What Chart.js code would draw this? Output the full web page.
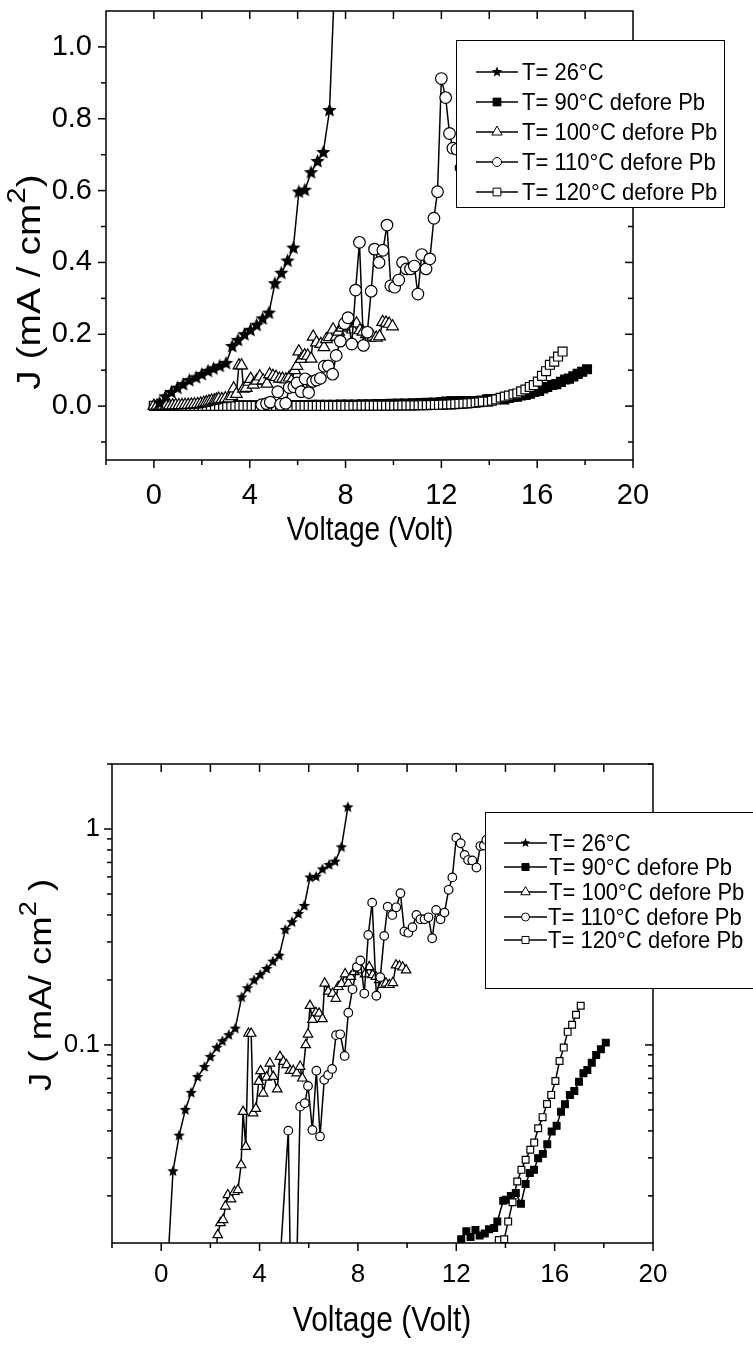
<!DOCTYPE html>
<html>
<head>
<meta charset="utf-8">
<script src="https://cdn.jsdelivr.net/npm/chart.js@4.4.0/dist/chart.umd.min.js"></script>
<style>
  html, body { margin: 0; padding: 0; background: #fff; }
  body { width: 753px; height: 1353px; position: relative; overflow: hidden; }
  canvas { position: absolute; left: 0; }
  #linearChart { top: 0; }
  #logChart { top: 676px; }
</style>
</head>
<body>
<canvas id="linearChart" width="753" height="676"></canvas>
<canvas id="logChart" width="753" height="677"></canvas>
<script>
// series labels
const seriesLabels = ['T= 26°C', 'T= 90°C defore Pb', 'T= 100°C defore Pb', 'T= 110°C defore Pb', 'T= 120°C defore Pb'];

// T = 26 C (stars)
const t26X = [0.23, 0.48, 0.73, 0.98, 1.22, 1.48, 1.76, 2.00, 2.26, 2.49, 2.75, 3.01, 3.27, 3.51, 3.78, 4.03, 4.29, 4.54, 4.80, 5.05,
  5.32, 5.58, 5.82, 6.05, 6.30, 6.56, 6.83, 7.07, 7.33, 7.59];
const t26Y = [0.008, 0.026, 0.038, 0.050, 0.060, 0.071, 0.079, 0.088, 0.097, 0.104, 0.111, 0.119, 0.166, 0.183, 0.199, 0.211, 0.225, 0.243, 0.259, 0.341,
  0.370, 0.404, 0.440, 0.596, 0.601, 0.650, 0.681, 0.706, 0.823, 1.26];

// T = 90 C (filled squares)
const t90X = [0, 0.3, 0.6, 0.9, 1.2, 1.5, 1.8, 2.1, 2.4, 2.7, 3.0, 3.3, 3.6, 3.9, 4.2, 4.5, 4.8, 5.1, 5.4, 5.7,
  6.0, 6.3, 6.6, 6.9, 7.2, 7.5, 7.8, 8.1, 8.4, 8.7, 9.0, 9.3, 9.6, 9.9, 10.2, 10.5, 10.8, 11.1, 11.4, 11.7,
  12.0, 12.20, 12.41, 12.58, 12.78, 12.95, 13.16, 13.33, 13.54, 13.67, 13.91, 14.02, 14.22, 14.42, 14.63, 14.82, 14.99, 15.16, 15.33, 15.52,
  15.70, 15.88, 16.08, 16.26, 16.42, 16.62, 16.80, 16.99, 17.17, 17.33, 17.51, 17.69, 17.88, 18.08];
const t90Y = [0.0010, 0.0011, 0.0012, 0.0013, 0.0014, 0.0015, 0.0016, 0.0017, 0.0018, 0.0019, 0.0020, 0.0021, 0.0022, 0.0023, 0.0024, 0.0025, 0.0026, 0.0027, 0.0028, 0.0030,
  0.0031, 0.0033, 0.0034, 0.0036, 0.0038, 0.0040, 0.0042, 0.0044, 0.0047, 0.0050, 0.0053, 0.0056, 0.0060, 0.0064, 0.0068, 0.0073, 0.0078, 0.0084, 0.0091, 0.0099,
  0.0110, 0.0126, 0.0137, 0.0129, 0.0139, 0.0131, 0.0134, 0.0140, 0.0142, 0.0152, 0.0190, 0.0192, 0.0200, 0.0206, 0.0184, 0.0227, 0.0255, 0.0264, 0.0299, 0.0313,
  0.0347, 0.0397, 0.0422, 0.0491, 0.0531, 0.0587, 0.0612, 0.0676, 0.0740, 0.0766, 0.0828, 0.0899, 0.0955, 0.1025];

// T = 100 C (open triangles)
const t100X = [0, 0.13, 0.26, 0.39, 0.52, 0.65, 0.78, 0.91, 1.04, 1.17, 1.30, 1.43, 1.56, 1.69, 1.82, 1.95, 2.08, 2.19,
  2.30, 2.41, 2.52, 2.61, 2.71, 2.84, 2.98, 3.12, 3.25, 3.33, 3.44, 3.55, 3.66, 3.74, 3.85, 3.97, 4.04, 4.15, 4.29, 4.42,
  4.56, 4.72, 4.83, 4.97, 5.10, 5.24, 5.37, 5.51, 5.65, 5.74, 5.88, 5.97, 6.05, 6.15, 6.29, 6.42, 6.56, 6.65, 6.79, 6.97,
  7.10, 7.20, 7.33, 7.48, 7.61, 7.71, 7.85, 8.01, 8.16, 8.29, 8.46, 8.60, 8.73, 8.87, 9.01, 9.14, 9.28, 9.42, 9.55, 9.69, 9.82, 9.96];
const t100Y = [0.0010, 0.0010, 0.0012, 0.0013, 0.0015, 0.0017, 0.0019, 0.0021, 0.0024, 0.0027, 0.0030, 0.0034, 0.0039, 0.0045, 0.0055, 0.0068, 0.0085, 0.0105,
  0.0132, 0.0150, 0.0155, 0.0179, 0.0202, 0.0193, 0.0209, 0.0213, 0.0278, 0.0491, 0.0338, 0.113, 0.113, 0.0483, 0.0507, 0.0676, 0.0758, 0.0597, 0.0708, 0.0822,
  0.0713, 0.0624, 0.0883, 0.0837, 0.0808, 0.076, 0.076, 0.074, 0.0794, 0.0701, 0.100, 0.112, 0.152, 0.131, 0.141, 0.140, 0.132, 0.193, 0.177, 0.173,
  0.164, 0.186, 0.192, 0.213, 0.193, 0.207, 0.218, 0.226, 0.222, 0.213, 0.230, 0.211, 0.207, 0.200, 0.190, 0.193, 0.190, 0.194, 0.234, 0.232, 0.229, 0.222];

// T = 110 C (open circles)
const t110X = [4.50, 4.70, 4.86, 5.17, 5.29, 5.50, 5.65, 5.84, 5.97, 6.15, 6.31, 6.46, 6.63, 6.79, 6.95, 7.11, 7.28, 7.46, 7.61, 7.78,
  7.96, 8.10, 8.26, 8.42, 8.58, 8.75, 8.91, 9.07, 9.21, 9.40, 9.56, 9.73, 9.89, 10.05, 10.22, 10.38, 10.54, 10.71, 10.87, 11.02,
  11.18, 11.36, 11.52, 11.69, 11.84, 12.00, 12.18, 12.34, 12.48, 12.65, 12.82, 12.98, 13.12, 13.22, 13.40];
const t110Y = [0.004, 0.007, 0.011, 0.0401, 0.005, 0.008, 0.0518, 0.0537, 0.0646, 0.0404, 0.0760, 0.0377, 0.0689, 0.0726, 0.0774, 0.111, 0.112, 0.0889, 0.141, 0.181,
  0.230, 0.246, 0.173, 0.323, 0.456, 0.169, 0.206, 0.320, 0.437, 0.400, 0.434, 0.504, 0.335, 0.331, 0.351, 0.400, 0.382, 0.382, 0.390, 0.312,
  0.422, 0.382, 0.410, 0.523, 0.597, 0.912, 0.859, 0.759, 0.718, 0.715, 0.663, 0.834, 0.838, 0.890, 0.920];

// T = 120 C (open squares)
const t120X = [0.00, 0.17, 0.34, 0.51, 0.68, 0.85, 1.02, 1.19, 1.36, 1.53, 1.70, 1.87, 2.04,
  2.21, 2.38, 2.55, 2.72, 2.89, 3.06, 3.23, 3.40, 3.57, 3.74, 3.91, 4.08,
  4.25, 4.42, 4.59, 4.76, 4.93, 5.10, 5.27, 5.44, 5.61, 5.78, 5.95, 6.12,
  6.29, 6.46, 6.63, 6.80, 6.97, 7.14, 7.31, 7.48, 7.65, 7.82, 7.99, 8.16,
  8.33, 8.50, 8.67, 8.84, 9.01, 9.18, 9.35, 9.52,
  9.69, 9.86, 10.03, 10.20, 10.37, 10.54, 10.71, 10.88,
  11.05, 11.22, 11.39, 11.56, 11.73, 11.90, 12.07, 12.24,
  12.41, 12.58, 12.75, 12.92, 13.09, 13.26, 13.43, 13.58,
  13.73, 13.95, 14.11, 14.29, 14.48, 14.65, 14.82, 15.01, 15.17, 15.33, 15.51, 15.69, 15.86, 16.03, 16.20, 16.37, 16.53, 16.71, 16.87, 17.06];
const t120Y = [0.0005, 0.0005, 0.0005, 0.0005, 0.0005, 0.0005, 0.0005, 0.0005, 0.0005, 0.0005, 0.0005, 0.0005, 0.0005,
  0.0006, 0.0006, 0.0006, 0.0006, 0.0006, 0.0006, 0.0006, 0.0006, 0.0006, 0.0006, 0.0006, 0.0006,
  0.0007, 0.0007, 0.0007, 0.0007, 0.0007, 0.0007, 0.0007, 0.0007, 0.0007, 0.0007, 0.0007, 0.0007,
  0.0008, 0.0008, 0.0008, 0.0008, 0.0008, 0.0008, 0.0008, 0.0008, 0.0008, 0.0008, 0.0008, 0.0008,
  0.0010, 0.0010, 0.0011, 0.0011, 0.0012, 0.0012, 0.0013, 0.0013,
  0.0014, 0.0015, 0.0016, 0.0017, 0.0018, 0.0019, 0.0020, 0.0022,
  0.0024, 0.0026, 0.0028, 0.0031, 0.0034, 0.0037, 0.0041, 0.0045,
  0.0050, 0.0056, 0.0062, 0.0069, 0.0077, 0.0086, 0.0096, 0.0108,
  0.0125, 0.0126, 0.0152, 0.0187, 0.0233, 0.0264, 0.0294, 0.0327, 0.0353, 0.0411, 0.0463, 0.0533, 0.0587, 0.0681, 0.0843, 0.0972, 0.115, 0.124, 0.138, 0.152];

// axis ticks
const xTickLabels = [0, 4, 8, 12, 16, 20];
const xMinorTicks = [-2, 2, 6, 10, 14, 18];
const xTopTicks = [0, 2, 4, 6, 8, 10, 12, 14, 16, 18];
const linTickLabels = [0.0, 0.2, 0.4, 0.6, 0.8, 1.0];
const linMinorTicks = [-0.1, 0.1, 0.3, 0.5, 0.7, 0.9];
const logTickLabels = [0.1, 1];
const logMinorTicks = [0.02, 0.03, 0.04, 0.05, 0.06, 0.07, 0.08, 0.09, 0.2, 0.3, 0.4, 0.5, 0.6, 0.7, 0.8, 0.9, 2];

const FONT = '"Liberation Sans", Arial, Helvetica, sans-serif';
// the original figure is a little stretched vertically
const STRETCH = 1.18;

function pairs(xs, ys) {
    return xs.map((x, i) => ({ x: x, y: ys[i] }));
}

function makeStar(R) {
    const c = document.createElement('canvas');
    c.width = Math.ceil(2 * R + 2);
    c.height = Math.ceil(2 * R + 2);
    const ctx = c.getContext('2d');
    starPath(ctx, c.width / 2, c.height / 2, R, R * 0.45);
    ctx.fillStyle = '#000';
    ctx.fill();
    return c;
}

function starPath(ctx, cx, cy, R, r) {
    ctx.beginPath();
    for (let i = 0; i < 10; i++) {
        const rad = i % 2 ? r : R;
        const a = -Math.PI / 2 + i * Math.PI / 5;
        ctx.lineTo(cx + rad * Math.cos(a), cy + rad * Math.sin(a));
    }
    ctx.closePath();
}

function buildDatasets(sz) {
    const common = {
        borderColor: '#000',
        borderWidth: sz.line,
        pointBorderColor: '#000',
        pointBorderWidth: 1.2,
        tension: 0,
        fill: false
    };
    return [
        Object.assign({}, common, {
            label: seriesLabels[0], data: pairs(t26X, t26Y),
            pointStyle: makeStar(sz.star), pointRadius: sz.star, order: 0
        }),
        Object.assign({}, common, {
            label: seriesLabels[1], data: pairs(t90X, t90Y),
            pointStyle: 'rect', pointRadius: sz.rect, pointBackgroundColor: '#000', order: 4
        }),
        Object.assign({}, common, {
            label: seriesLabels[2], data: pairs(t100X, t100Y),
            pointStyle: 'triangle', pointRadius: sz.tri, pointBackgroundColor: '#fff', order: 2
        }),
        Object.assign({}, common, {
            label: seriesLabels[3], data: pairs(t110X, t110Y),
            pointStyle: 'circle', pointRadius: sz.circ, pointBackgroundColor: '#fff', order: 1
        }),
        Object.assign({}, common, {
            label: seriesLabels[4], data: pairs(t120X, t120Y),
            pointStyle: 'rect', pointRadius: sz.rect, pointBackgroundColor: '#fff', order: 3
        })
    ];
}

// frame, ticks, axis titles and legend drawn on top of the chart
const framePlugin = {
    id: 'frame',
    afterDraw(chart, args, opts) {
        const ctx = chart.ctx;
        const a = chart.chartArea;
        const xs = chart.scales.x, ys = chart.scales.y;
        ctx.save();
        ctx.strokeStyle = '#000';
        ctx.lineWidth = 1.5;
        ctx.strokeRect(a.left, a.top, a.right - a.left, a.bottom - a.top);

        const tick = (x1, y1, x2, y2) => {
            ctx.beginPath();
            ctx.moveTo(x1, y1);
            ctx.lineTo(x2, y2);
            ctx.stroke();
        };
        xTickLabels.forEach(v => tick(xs.getPixelForValue(v), a.bottom, xs.getPixelForValue(v), a.bottom + 8));
        xMinorTicks.forEach(v => tick(xs.getPixelForValue(v), a.bottom, xs.getPixelForValue(v), a.bottom + 5));
        xTopTicks.forEach(v => tick(xs.getPixelForValue(v), a.top, xs.getPixelForValue(v), a.top + 8));
        opts.yMajor.forEach(v => {
            const p = ys.getPixelForValue(v);
            tick(a.left - 8, p, a.left, p);
            tick(a.right - 8, p, a.right, p);
        });
        opts.yMinor.forEach(v => {
            const p = ys.getPixelForValue(v);
            tick(a.left - 5, p, a.left, p);
            tick(a.right - 5, p, a.right, p);
        });

        // axis titles
        ctx.fillStyle = '#000';
        ctx.textBaseline = 'middle';
        ctx.textAlign = 'center';
        ctx.save();
        ctx.translate(opts.xTitlePos[0], opts.xTitlePos[1]);
        ctx.scale(1, STRETCH);
        ctx.font = opts.xTitleSize + 'px ' + FONT;
        ctx.fillText('Voltage (Volt)', 0, 0);
        ctx.restore();

        ctx.save();
        ctx.translate(opts.yTitlePos[0], opts.yTitlePos[1]);
        ctx.scale(1, STRETCH);
        ctx.rotate(-Math.PI / 2);
        const big = opts.yTitleSize + 'px ' + FONT;
        const small = Math.round(opts.yTitleSize * 0.75) + 'px ' + FONT;
        ctx.font = big;
        const w1 = ctx.measureText(opts.yTitle[0]).width;
        const w3 = ctx.measureText(opts.yTitle[2]).width;
        ctx.font = small;
        const w2 = ctx.measureText(opts.yTitle[1]).width;
        const x0 = -(w1 + w2 + w3) / 2;
        ctx.textAlign = 'left';
        ctx.font = big;
        ctx.fillText(opts.yTitle[0], x0, 0);
        ctx.font = small;
        ctx.fillText(opts.yTitle[1], x0 + w1, -opts.yTitleSize * 0.4);
        ctx.font = big;
        ctx.fillText(opts.yTitle[2], x0 + w1 + w2, 0);
        ctx.restore();

        // legend
        const L = opts.legend;
        ctx.fillStyle = '#fff';
        ctx.fillRect(L.box[0], L.box[1], L.box[2], L.box[3]);
        ctx.lineWidth = 1;
        ctx.strokeRect(L.box[0] + 0.5, L.box[1] + 0.5, L.box[2], L.box[3]);
        ctx.textAlign = 'left';
        ctx.textBaseline = 'middle';
        chart.data.datasets.forEach((ds, i) => {
            const y = L.rowY[i];
            ctx.strokeStyle = '#000';
            ctx.lineWidth = 1.5;
            tick(L.line[0], y, L.line[1], y);
            const mx = (L.line[0] + L.line[1]) / 2;
            if (i === 0) {
                starPath(ctx, mx, y, L.star, L.star * 0.45);
                ctx.fillStyle = '#000';
                ctx.fill();
            } else {
                ctx.fillStyle = ds.pointBackgroundColor;
                ctx.lineWidth = 1;
                Chart.helpers.drawPoint(ctx, {
                    pointStyle: ds.pointStyle,
                    radius: L.marker[i],
                    rotation: 0,
                    borderWidth: 1
                }, mx, y);
            }
            ctx.save();
            ctx.translate(L.textX[i], y + 1);
            ctx.scale(1, 1.08);
            ctx.fillStyle = '#000';
            ctx.font = L.font + 'px ' + FONT;
            ctx.fillText(ds.label, 0, 0);
            ctx.restore();
        });
        ctx.restore();
    }
};

function makeChart(id, frame, yScale, sz, opts) {
    const canvas = document.getElementById(id);
    const W = canvas.width, H = canvas.height;
    return new Chart(canvas, {
        type: 'line',
        data: { datasets: buildDatasets(sz) },
        options: {
            responsive: false,
            animation: false,
            events: [],
            layout: { padding: { top: frame.top, right: W - frame.right, left: 0, bottom: 0 } },
            scales: {
                x: {
                    type: 'linear',
                    min: -2,
                    max: 20,
                    grid: { display: false },
                    border: { display: false },
                    ticks: {
                        color: '#000',
                        font: { family: FONT, size: sz.tickFont },
                        padding: sz.xTickPad,
                        maxRotation: 0,
                        autoSkip: false
                    },
                    afterBuildTicks: s => { s.ticks = xTickLabels.map(v => ({ value: v })); },
                    afterFit: s => {
                        s.height = H - frame.bottom;
                        s.paddingLeft = 0;
                        s.paddingRight = 0;
                    }
                },
                y: Object.assign({
                    grid: { display: false },
                    border: { display: false },
                    afterFit: s => {
                        s.width = frame.left;
                        s.paddingTop = 0;
                        s.paddingBottom = 0;
                    }
                }, yScale)
            },
            plugins: {
                legend: { display: false },
                tooltip: { enabled: false },
                frame: opts
            }
        },
        plugins: [framePlugin]
    });
}

// top: linear current density
makeChart('linearChart',
    { left: 106, right: 633, top: 11, bottom: 460 },
    {
        type: 'linear',
        min: -0.15,
        max: 1.1,
        ticks: {
            color: '#000',
            font: { family: FONT, size: 29 },
            padding: 6,
            autoSkip: false,
            callback: v => v.toFixed(1)
        },
        afterBuildTicks: s => { s.ticks = linTickLabels.map(v => ({ value: v })); }
    },
    { line: 1.5, star: 7.5, rect: 6.3, tri: 6.8, circ: 5.8, tickFont: 29, xTickPad: 11 },
    {
        yMajor: linTickLabels,
        yMinor: linMinorTicks,
        xTitleSize: 28,
        xTitlePos: [370, 531],
        yTitleSize: 33,
        yTitlePos: [31, 282],
        yTitle: ['J (mA / cm', '2', ')'],
        legend: {
            box: [456, 40, 268, 167],
            rowY: [72, 102, 132, 162, 192],
            line: [476, 518],
            textX: [522, 522, 522, 522, 522],
            font: 22,
            star: 5.5,
            marker: [0, 5.5, 6, 4.5, 5.5]
        }
    });

// bottom: log current density
makeChart('logChart',
    { left: 112, right: 653, top: 88, bottom: 567 },
    {
        type: 'logarithmic',
        min: 0.0121,
        max: 2,
        ticks: {
            color: '#000',
            font: { family: FONT, size: 26 },
            padding: 4,
            autoSkip: false,
            callback: v => String(v)
        },
        afterBuildTicks: s => { s.ticks = logTickLabels.map(v => ({ value: v })); }
    },
    { line: 1.5, star: 6, rect: 4.8, tri: 5.5, circ: 4.3, tickFont: 26, xTickPad: 8 },
    {
        yMajor: logTickLabels,
        yMinor: logMinorTicks,
        xTitleSize: 30,
        xTitlePos: [382, 645],
        yTitleSize: 31,
        yTitlePos: [42, 309],
        yTitle: ['J ( mA/ cm', '2', ' )'],
        legend: {
            box: [485, 136, 285, 176],
            rowY: [167, 191, 216, 241, 264],
            line: [504, 547],
            textX: [549, 549, 549, 548, 548],
            font: 22,
            star: 5,
            marker: [0, 5, 5.5, 4, 5]
        }
    });
</script>
</body>
</html>
